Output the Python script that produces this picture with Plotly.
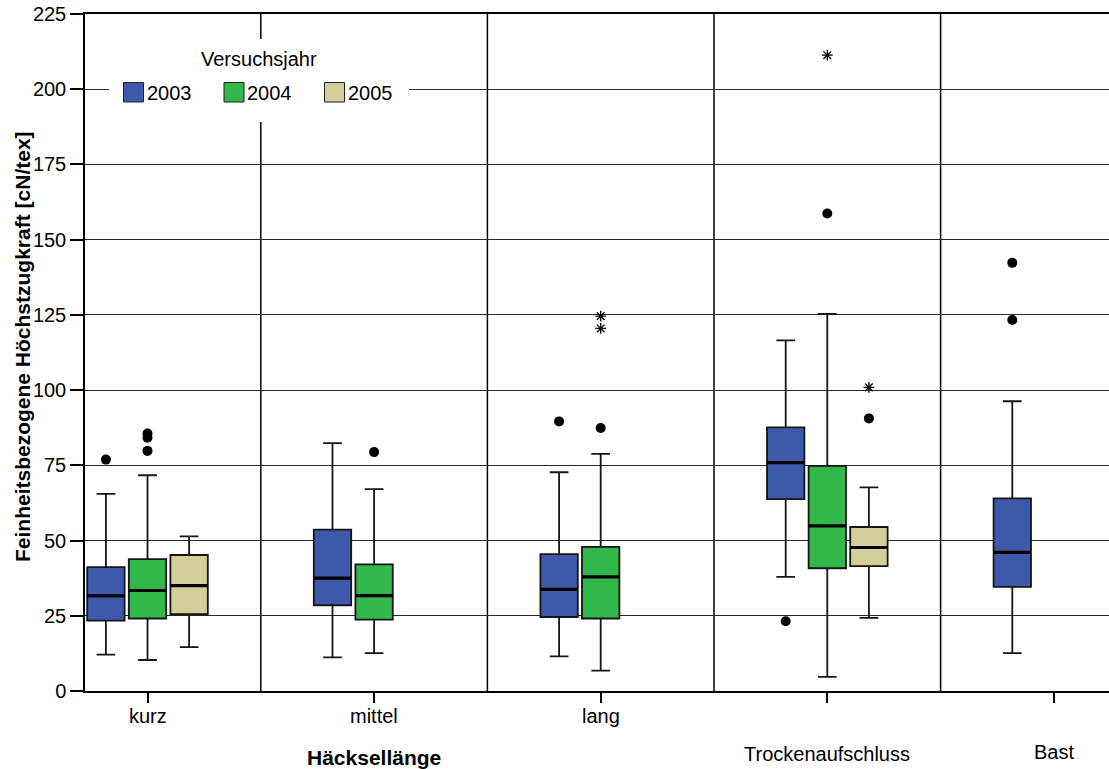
import plotly.graph_objects as go

# ---- data -------------------------------------------------------------
categories = ["kurz", "mittel", "lang", "Trockenaufschluss", "Bast"]
years = ["2003", "2004", "2005"]
colors = {"2003": "#3e58aa", "2004": "#31b74a", "2005": "#d4cf98"}

# box statistics per year: category, q1, median, q3, lower whisker, upper whisker
cat_2003 = ["kurz", "mittel", "lang", "Trockenaufschluss", "Bast"]
q1_2003 = [23.4, 28.5, 24.6, 63.8, 34.6]
med_2003 = [31.6, 37.5, 33.8, 75.9, 46.1]
q3_2003 = [41.2, 53.6, 45.5, 87.6, 64.0]
lo_2003 = [12.1, 11.2, 11.5, 37.9, 12.6]
hi_2003 = [65.5, 82.4, 72.7, 116.5, 96.3]

cat_2004 = ["kurz", "mittel", "lang", "Trockenaufschluss"]
q1_2004 = [24.1, 23.7, 24.1, 40.8]
med_2004 = [33.4, 31.7, 37.9, 54.9]
q3_2004 = [43.8, 42.1, 47.9, 74.8]
lo_2004 = [10.3, 12.6, 6.8, 4.7]
hi_2004 = [71.7, 67.1, 78.8, 125.3]

cat_2005 = ["kurz", "Trockenaufschluss"]
q1_2005 = [25.5, 41.5]
med_2005 = [35.0, 47.7]
q3_2005 = [45.2, 54.5]
lo_2005 = [14.6, 24.3]
hi_2005 = [51.4, 67.7]

# outliers (dots) and extreme values (stars)
out_cat_2003 = ["kurz", "lang", "Trockenaufschluss", "Bast", "Bast"]
out_val_2003 = [76.9, 89.6, 23.2, 142.3, 123.3]
out_cat_2004 = ["kurz", "kurz", "kurz", "mittel", "lang", "Trockenaufschluss"]
out_val_2004 = [85.6, 84.2, 79.8, 79.4, 87.4, 158.7]
out_cat_2005 = ["Trockenaufschluss"]
out_val_2005 = [90.6]

ext_cat_2004 = ["lang", "lang", "Trockenaufschluss"]
ext_val_2004 = [124.6, 120.5, 211.3]
ext_cat_2005 = ["Trockenaufschluss"]
ext_val_2005 = [100.9]

y_ticks = [0, 25, 50, 75, 100, 125, 150, 175, 200, 225]

# ---- layout constants ---------------------------------------------------
FONT = "Liberation Sans, Arial, sans-serif"
W, H = 1109, 769
ML, MR, MT, MB = 85, 0, 14, 78
SLOT = 0.1836          # horizontal offset between year slots (category units)
BOX_W = 0.165          # box width (category units)
offsets = {"2003": -SLOT, "2004": 0.0, "2005": SLOT}
cat_idx = {c: i for i, c in enumerate(categories)}

plot_w = W - ML - MR
plot_h = H - MT - MB


def px_x(p):
    return (p - ML) / plot_w


def px_y(p):
    return (H - MB - p) / plot_h


stats = {
    "2003": (cat_2003, q1_2003, med_2003, q3_2003, lo_2003, hi_2003),
    "2004": (cat_2004, q1_2004, med_2004, q3_2004, lo_2004, hi_2004),
    "2005": (cat_2005, q1_2005, med_2005, q3_2005, lo_2005, hi_2005),
}
outliers = {
    "2003": (out_cat_2003, out_val_2003),
    "2004": (out_cat_2004, out_val_2004),
    "2005": (out_cat_2005, out_val_2005),
}
extremes = {
    "2004": (ext_cat_2004, ext_val_2004),
    "2005": (ext_cat_2005, ext_val_2005),
}

fig = go.Figure()

for yr in years:
    cats, q1, med, q3, lo, hi = stats[yr]
    xs = [cat_idx[c] + offsets[yr] for c in cats]
    fig.add_trace(go.Box(
        x=xs, q1=q1, median=med, q3=q3, lowerfence=lo, upperfence=hi,
        width=BOX_W, whiskerwidth=0.5, boxpoints=False,
        fillcolor=colors[yr], line=dict(color="#151515", width=1.8),
        name=yr, showlegend=False, hoverinfo="skip",
    ))
    # heavier median bars
    mx, my = [], []
    for x, m in zip(xs, med):
        mx += [x - BOX_W / 2, x + BOX_W / 2, None]
        my += [m, m, None]
    fig.add_trace(go.Scatter(
        x=mx, y=my, mode="lines", line=dict(color="black", width=3.2),
        showlegend=False, hoverinfo="skip",
    ))

for yr in years:
    cats, vals = outliers[yr]
    fig.add_trace(go.Scatter(
        x=[cat_idx[c] + offsets[yr] for c in cats], y=vals, mode="markers",
        marker=dict(symbol="circle", size=10, color="black", line=dict(width=0)),
        showlegend=False, hoverinfo="skip",
    ))

for yr, (cats, vals) in extremes.items():
    fig.add_trace(go.Scatter(
        x=[cat_idx[c] + offsets[yr] for c in cats], y=vals, mode="markers",
        marker=dict(symbol="asterisk-open", size=9, color="black",
                    line=dict(color="black", width=1.3)),
        showlegend=False, hoverinfo="skip",
    ))

shapes = []
# category separators
for i in range(len(categories) - 1):
    shapes.append(dict(type="line", xref="x", yref="paper", x0=i + 0.5, x1=i + 0.5,
                       y0=0, y1=1, line=dict(color="black", width=1.5), layer="between"))

# legend panel
shapes.append(dict(type="rect", xref="paper", yref="paper",
                   x0=px_x(109), x1=px_x(409), y0=px_y(122), y1=px_y(39),
                   fillcolor="white", line=dict(width=0), layer="above"))

annotations = []
LEG_X0, LEG_PITCH, SW = 123.5, 100.5, 20
annotations.append(dict(xref="paper", yref="paper", x=px_x(259), y=px_y(59),
                        text="Versuchsjahr", showarrow=False, xanchor="center", yanchor="middle",
                        font=dict(family=FONT, size=20, color="black")))
for k, yr in enumerate(years):
    x0 = LEG_X0 + k * LEG_PITCH
    shapes.append(dict(type="rect", xref="paper", yref="paper",
                       x0=px_x(x0), x1=px_x(x0 + SW), y0=px_y(102), y1=px_y(82.5),
                       fillcolor=colors[yr], line=dict(color="#222222", width=1), layer="above"))
    annotations.append(dict(xref="paper", yref="paper", x=px_x(x0 + SW + 1), y=px_y(93),
                            text=yr, showarrow=False, xanchor="left", yanchor="middle",
                            font=dict(family=FONT, size=20, color="black")))

# category labels
label_y = {"kurz": 716, "mittel": 716, "lang": 716, "Trockenaufschluss": 754, "Bast": 752}
for c in categories:
    annotations.append(dict(xref="x", yref="paper", x=cat_idx[c], y=px_y(label_y[c]),
                            text=c, showarrow=False, xanchor="center", yanchor="middle",
                            font=dict(family=FONT, size=20, color="black")))
annotations.append(dict(xref="x", yref="paper", x=cat_idx["mittel"], y=px_y(757),
                        text="<b>Häcksellänge</b>", showarrow=False, xanchor="center",
                        yanchor="middle", font=dict(family=FONT, size=21, color="black")))
annotations.append(dict(xref="paper", yref="paper", x=px_x(22), y=px_y(347),
                        text="<b>Feinheitsbezogene Höchstzugkraft [cN/tex]</b>", textangle=-90,
                        showarrow=False, xanchor="center", yanchor="middle",
                        font=dict(family=FONT, size=21, color="black")))

left_edge = -(147.5 - ML) / 226.6
fig.update_layout(
    width=W, height=H,
    margin=dict(l=ML, r=MR, t=MT, b=MB, pad=0),
    paper_bgcolor="white", plot_bgcolor="white",
    boxmode="overlay", showlegend=False,
    font=dict(family=FONT, size=20, color="black"),
    shapes=shapes, annotations=annotations,
    xaxis=dict(range=[left_edge, left_edge + plot_w / 226.6],
               tickvals=list(range(len(categories))), ticktext=[""] * len(categories),
               ticks="outside", ticklen=10, tickwidth=1.5, tickcolor="black",
               showgrid=False, zeroline=False,
               showline=True, linecolor="black", linewidth=1.5, mirror=True),
    yaxis=dict(range=[0, 225], tickvals=y_ticks,
               ticks="outside", ticklen=13, tickwidth=1.5, tickcolor="black",
               tickfont=dict(family=FONT, size=20, color="black"),
               ticklabelstandoff=0,
               showgrid=True, gridcolor="#2a2a2a", gridwidth=1,
               zeroline=False, showline=True, linecolor="black", linewidth=1.5),
)

fig.write_html("out.html")
